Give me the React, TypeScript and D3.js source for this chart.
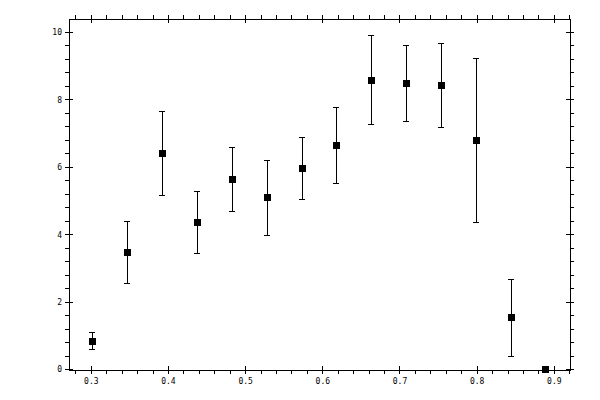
import * as d3 from "d3";
import React from "react";

// bin centres and measured values
const xValues = [0.3013, 0.3467, 0.392, 0.4374, 0.4827, 0.5277, 0.5734, 0.6175, 0.6628, 0.7082, 0.7535, 0.7989, 0.8439, 0.8892];
const yValues = [0.84, 3.47, 6.41, 4.36, 5.64, 5.1, 5.96, 6.65, 8.58, 8.49, 8.43, 6.8, 1.54, 0];
const yErrors = [0.26, 0.91, 1.26, 0.93, 0.94, 1.11, 0.93, 1.13, 1.32, 1.12, 1.25, 2.44, 1.14, 0];

const xMajor = [0.3, 0.4, 0.5, 0.6, 0.7, 0.8, 0.9];
const yMajor = [0, 2, 4, 6, 8, 10];

const width = 600;
const height = 400;
const frame = { left: 69, right: 570, top: 19, bottom: 370 };

const App: React.FC = () => {
  const x = d3.scaleLinear().domain([0.2711, 0.9203]).range([frame.left, frame.right]);
  const y = d3.scaleLinear().domain([-0.015, 10.4]).range([frame.bottom, frame.top]);

  // minor ticks every 0.02 on x and 0.4 on y
  const xMinor = d3.range(14, 47).map((i) => i * 0.02).filter((v) => v >= 0.2711 && v <= 0.9203);
  const yMinor = d3.range(0, 26).map((i) => i * 0.4).filter((v) => v <= 10.39);

  const major = 4;
  const minor = 4;
  const font = { fontFamily: "'DejaVu Sans Mono', monospace", fontSize: 8 };

  return (
    <svg
      width={width}
      height={height}
      style={{ position: "absolute", left: 0, top: 0, background: "#fff" }}
      shapeRendering="crispEdges"
    >
      <rect
        x={frame.left}
        y={frame.top}
        width={frame.right - frame.left}
        height={frame.bottom - frame.top}
        fill="none"
        stroke="#000"
        strokeWidth={1}
      />

      {/* x ticks, bottom and top */}
      {xMinor.map((v, i) => (
        <g key={"xm" + i} stroke="#000">
          <line x1={x(v)} x2={x(v)} y1={frame.bottom} y2={frame.bottom + minor} />
          <line x1={x(v)} x2={x(v)} y1={frame.top} y2={frame.top - minor} />
        </g>
      ))}
      {xMajor.map((v) => (
        <g key={"xM" + v}>
          <line x1={x(v)} x2={x(v)} y1={frame.bottom - major} y2={frame.bottom + major} stroke="#000" />
          <line x1={x(v)} x2={x(v)} y1={frame.top - major} y2={frame.top + major} stroke="#000" />
          <text x={x(v)} y={frame.bottom + 14} textAnchor="middle" {...font}>
            {d3.format(".1f")(v)}
          </text>
        </g>
      ))}

      {/* y ticks, left and right */}
      {yMinor.map((v, i) => (
        <g key={"ym" + i} stroke="#000">
          <line x1={frame.left} x2={frame.left - minor} y1={y(v)} y2={y(v)} />
          <line x1={frame.right} x2={frame.right + minor} y1={y(v)} y2={y(v)} />
        </g>
      ))}
      {yMajor.map((v) => (
        <g key={"yM" + v}>
          <line x1={frame.left - major} x2={frame.left + major} y1={y(v)} y2={y(v)} stroke="#000" />
          <line x1={frame.right - major} x2={frame.right + major} y1={y(v)} y2={y(v)} stroke="#000" />
          <text x={frame.left - 7} y={y(v) + 3} textAnchor="end" {...font}>
            {v}
          </text>
        </g>
      ))}

      {/* error bars and markers */}
      {xValues.map((xv, i) => {
        const cx = x(xv);
        const cy = y(yValues[i]);
        const top = y(yValues[i] + yErrors[i]);
        const bot = y(yValues[i] - yErrors[i]);
        return (
          <g key={"p" + i}>
            {yErrors[i] > 0 && (
              <g stroke="#000" strokeWidth={1}>
                <line x1={cx} x2={cx} y1={top} y2={bot} />
                <line x1={cx - 3} x2={cx + 3} y1={top} y2={top} />
                <line x1={cx - 3} x2={cx + 3} y1={bot} y2={bot} />
              </g>
            )}
            <rect x={cx - 3.5} y={cy - 3.5} width={7} height={7} fill="#000" />
          </g>
        );
      })}
    </svg>
  );
};

export default App;
